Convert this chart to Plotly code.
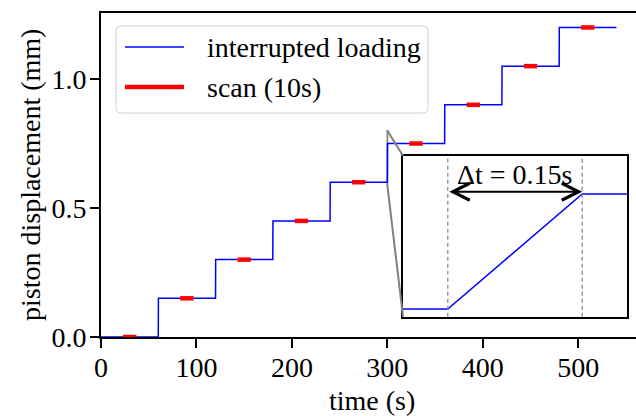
import plotly.graph_objects as go

# ---- data ----
step_times = [60, 120, 180, 240, 300, 360, 420, 480]
levels = [0.0, 0.15, 0.30, 0.45, 0.60, 0.75, 0.90, 1.05, 1.20]
t_start = 0
t_end = 540
ramp_duration = 0.15
scan_centers = [30, 90, 150, 210, 270, 330, 390, 450, 510]
scan_duration = 10
x_ticks = [0, 100, 200, 300, 400, 500]
y_ticks = [0.0, 0.5, 1.0]
zoom_step = 300
inset_x = [299.95, 300.20]
inset_y = [0.59, 0.80]

# ---- build series ----
lx, ly = [t_start], [levels[0]]
for i, t in enumerate(step_times):
    lx += [t, t + ramp_duration]
    ly += [levels[i], levels[i + 1]]
lx.append(t_end)
ly.append(levels[-1])

cap = 2.0  # projecting cap extension (data units)
sx, sy = [], []
for c, lev in zip(scan_centers, levels):
    sx += [c - scan_duration / 2 - cap, c + scan_duration / 2 + cap, None]
    sy += [lev, lev, None]

# ---- geometry ----
W, H = 636, 416
ML, MR, MT, MB = 101, 0, 13, 79
PW, PH = W - ML - MR, H - MT - MB
x_range = [0, 560.5]
y_range = [0, 1.256]


def px2paper(px, py):
    return (px - ML) / PW, (H - MB - py) / PH


inset_dom_x = [px2paper(403, 0)[0], px2paper(627, 0)[0]]
inset_dom_y = [px2paper(0, 316.7)[1], px2paper(0, 155.7)[1]]


def paper2data(xp, yp):
    return (x_range[0] + xp * (x_range[1] - x_range[0]),
            y_range[0] + yp * (y_range[1] - y_range[0]))


FONT = "Liberation Serif"
FS = 28
fig = go.Figure()
fig.add_trace(go.Scatter(x=lx, y=ly, mode="lines", line=dict(color="#0000ff", width=1.5),
                         name="interrupted loading", showlegend=False, xaxis="x", yaxis="y"))
fig.add_trace(go.Scatter(x=sx, y=sy, mode="lines", line=dict(color="#ff0000", width=4.5),
                         name="scan (10s)", showlegend=False, xaxis="x", yaxis="y"))
fig.add_trace(go.Scatter(x=lx, y=ly, mode="lines", line=dict(color="#0000ff", width=1.5),
                         showlegend=False, xaxis="x2", yaxis="y2"))

shapes = []
# zoom rectangle and connectors
shapes.append(dict(type="rect", xref="x", yref="y", x0=inset_x[0], x1=inset_x[1],
                   y0=inset_y[0], y1=inset_y[1], line=dict(color="#808080", width=1.5), layer="below"))
tl = paper2data(inset_dom_x[0], inset_dom_y[1])
bl = paper2data(inset_dom_x[0], inset_dom_y[0])
shapes.append(dict(type="line", xref="x", yref="y", x0=inset_x[0], y0=inset_y[1], x1=tl[0], y1=tl[1],
                   line=dict(color="#808080", width=2)))
shapes.append(dict(type="line", xref="x", yref="y", x0=inset_x[0], y0=inset_y[0], x1=bl[0], y1=bl[1],
                   line=dict(color="#808080", width=2)))
# dashed lines in inset
for xv in [zoom_step, zoom_step + ramp_duration]:
    shapes.append(dict(type="line", xref="x2", yref="y2 domain", x0=xv, x1=xv, y0=0, y1=1,
                       line=dict(color="#808080", width=1.2, dash="4px,3px")))

# manual legend
bx0, by0 = px2paper(116, 113)
bx1, by1 = px2paper(428, 26)
r = 5
rx, ry = r / PW, r / PH
path = (f"M{bx0+rx},{by0} L{bx1-rx},{by0} Q{bx1},{by0} {bx1},{by0+ry} "
        f"L{bx1},{by1-ry} Q{bx1},{by1} {bx1-rx},{by1} L{bx0+rx},{by1} "
        f"Q{bx0},{by1} {bx0},{by1-ry} L{bx0},{by0+ry} Q{bx0},{by0} {bx0+rx},{by0} Z")
shapes.append(dict(type="path", xref="paper", yref="paper", path=path,
                   line=dict(color="#d0d0d0", width=1), fillcolor="rgba(255,255,255,0.8)"))
legend_items = [("interrupted loading", "#0000ff", 1.5, 47), ("scan (10s)", "#ff0000", 4.5, 87)]
annotations = []
for label, col, w, py in legend_items:
    a0 = px2paper(125, py)
    a1 = px2paper(184, py)
    shapes.append(dict(type="line", xref="paper", yref="paper", x0=a0[0], x1=a1[0], y0=a0[1], y1=a1[1],
                       line=dict(color=col, width=w)))
    tp = px2paper(205, py)
    annotations.append(dict(xref="paper", yref="paper", x=tp[0], y=tp[1], text=label, showarrow=False,
                            xanchor="left", yanchor="middle", font=dict(family=FONT, size=FS, color="black")))

# arrow and label in inset
arrow_y = levels[5] + 0.003
annotations.append(dict(xref="x2", yref="y2", axref="x2", ayref="y2",
                        x=zoom_step + ramp_duration, y=arrow_y, ax=zoom_step, ay=arrow_y,
                        text="", showarrow=True, arrowside="end+start", arrowhead=5,
                        arrowsize=1.5, arrowwidth=2.2, arrowcolor="black", standoff=0, startstandoff=0))
tp = px2paper(514, 174)
annotations.append(dict(xref="paper", yref="paper", x=tp[0], y=tp[1], text="Δt = 0.15s", showarrow=False,
                        xanchor="center", yanchor="middle", font=dict(family=FONT, size=FS, color="black")))

# axis titles
tp = px2paper(371.5, 400)
annotations.append(dict(xref="paper", yref="paper", x=tp[0], y=tp[1], text="time (s)", showarrow=False,
                        xanchor="center", yanchor="middle",
                        font=dict(family=FONT, size=FS, color="black")))
tp = px2paper(30, 175)
annotations.append(dict(xref="paper", yref="paper", x=tp[0], y=tp[1], text="piston displacement (mm)",
                        showarrow=False, textangle=-90, xanchor="center", yanchor="middle",
                        font=dict(family=FONT, size=FS, color="black")))

fig.update_layout(
    width=W, height=H, autosize=False,
    margin=dict(l=ML, r=MR, t=MT, b=MB, pad=0),
    paper_bgcolor="white", plot_bgcolor="white",
    showlegend=False,
    font=dict(family=FONT, size=FS, color="black"),
    xaxis=dict(range=x_range, tickvals=x_ticks, ticktext=[str(v) for v in x_ticks],
               showline=True, linecolor="black", linewidth=2, mirror=True,
               ticks="outside", ticklen=9, tickwidth=2, tickcolor="black", ticklabelstandoff=-5,
               showgrid=False, zeroline=False, tickfont=dict(family=FONT, size=FS, color="black")),
    yaxis=dict(range=y_range, tickvals=y_ticks, ticktext=[f"{v:.1f}" for v in y_ticks],
               showline=True, linecolor="black", linewidth=2, mirror=False,
               ticks="outside", ticklen=9, tickwidth=2, tickcolor="black", ticklabelstandoff=-2,
               showgrid=False, zeroline=False, tickfont=dict(family=FONT, size=FS, color="black")),
    xaxis2=dict(domain=inset_dom_x, anchor="y2", range=inset_x, showline=True, linecolor="black",
                linewidth=2, mirror=True, ticks="", showticklabels=False, showgrid=False, zeroline=False),
    yaxis2=dict(domain=inset_dom_y, anchor="x2", range=inset_y, showline=True, linecolor="black",
                linewidth=2, mirror=True, ticks="", showticklabels=False, showgrid=False, zeroline=False),
    shapes=shapes, annotations=annotations,
)

fig.write_html("out.html")
